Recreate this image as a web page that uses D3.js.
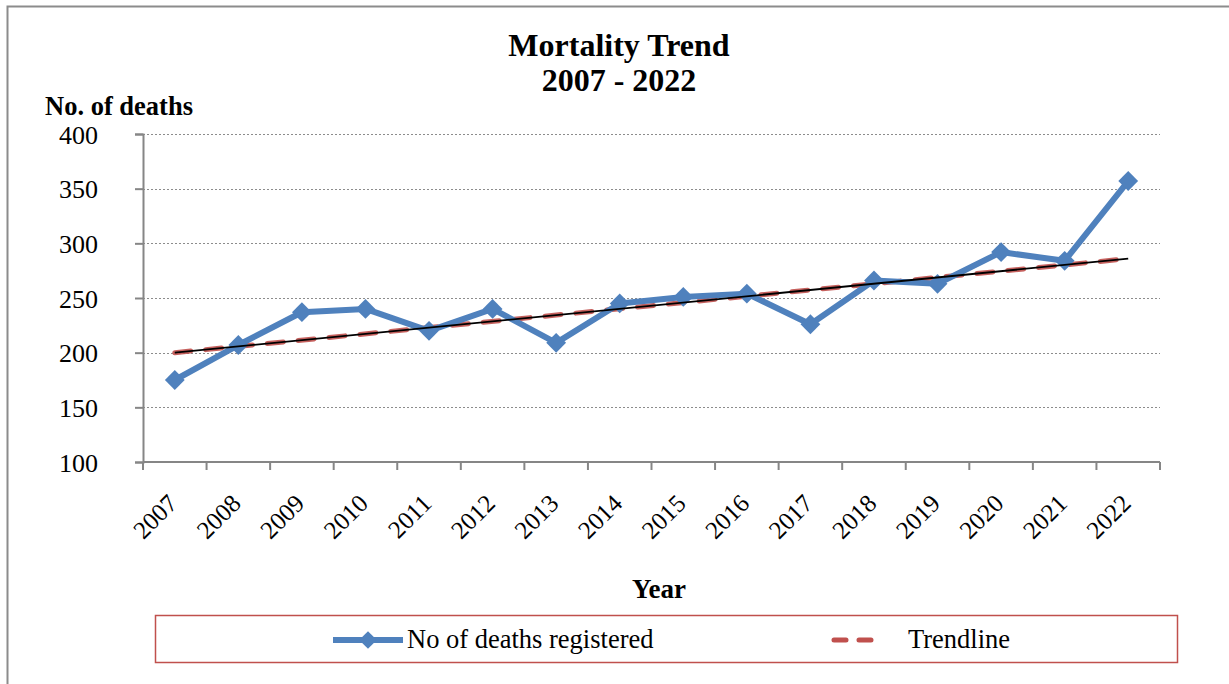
<!DOCTYPE html>
<html>
<head>
<meta charset="utf-8">
<script src="https://cdn.jsdelivr.net/npm/d3@7/dist/d3.min.js"></script>
<style>
  body { margin: 0; background: #fff; }
  text { font-family: "Liberation Serif", "Times New Roman", serif; fill: #000; }
</style>
</head>
<body>
<div id="chart"></div>
<script>
// chart data
let years = ["2007", "2008", "2009", "2010", "2011", "2012", "2013", "2014",
             "2015", "2016", "2017", "2018", "2019", "2020", "2021", "2022"]
let deaths = [175, 207, 237, 240, 220, 240, 209, 245, 251, 254, 226, 266, 263, 292, 284, 357]
// trendline endpoints
let trendStart = 200
let trendEnd = 286
let yTicks = [100, 150, 200, 250, 300, 350, 400]

let svgWidth = 1229, svgHeight = 684
let margin = { top: 134, right: 69, bottom: 222, left: 143 }
let width = svgWidth - margin.left - margin.right
let height = svgHeight - margin.top - margin.bottom

let svg = d3.select("#chart")
  .append("svg")
  .attr("width", svgWidth)
  .attr("height", svgHeight)

// outer chart border
svg.append("rect")
  .attr("x", 7.5).attr("y", 6.5)
  .attr("width", svgWidth + 10).attr("height", svgHeight + 10)
  .attr("fill", "none")
  .attr("stroke", "#8c8c8c")
  .attr("stroke-width", 2)

let chartGroup = svg.append("g")
  .attr("transform", `translate(${margin.left}, ${margin.top})`)

let xBand = d3.scaleBand().domain(years).range([0, width])
let xScale = d => xBand(d) + xBand.bandwidth() / 2
let yScale = d3.scaleLinear().domain([100, 400]).range([height, 0])

// gridlines
chartGroup.append("g")
  .selectAll("line")
  .data(yTicks.filter(t => t > 100))
  .enter()
  .append("line")
  .attr("x1", 0).attr("x2", width)
  .attr("y1", d => Math.round(yScale(d)) + 0.5)
  .attr("y2", d => Math.round(yScale(d)) + 0.5)
  .attr("stroke", "#8c8c8c")
  .attr("stroke-width", 1.2)
  .attr("stroke-dasharray", "2,2")

// y axis
let yAxis = chartGroup.append("g")
  .call(d3.axisLeft(yScale).tickValues(yTicks).tickSize(8).tickPadding(37))
yAxis.select(".domain").attr("stroke", "#868686").attr("stroke-width", 2)
yAxis.selectAll(".tick line").attr("stroke", "#868686").attr("stroke-width", 2)
yAxis.selectAll(".tick text")
  .attr("font-size", 26)
  .attr("dy", "0.35em")

// x axis: ticks on category boundaries
let xAxis = chartGroup.append("g")
  .attr("transform", `translate(0, ${height})`)
xAxis.append("line")
  .attr("x1", 0).attr("x2", width)
  .attr("stroke", "#868686").attr("stroke-width", 2)
xAxis.selectAll(".bound")
  .data(years.concat(["end"]))
  .enter()
  .append("line")
  .attr("x1", (d, i) => i * xBand.bandwidth())
  .attr("x2", (d, i) => i * xBand.bandwidth())
  .attr("y1", 0).attr("y2", 8)
  .attr("stroke", "#868686").attr("stroke-width", 2)
xAxis.selectAll(".lbl")
  .data(years)
  .enter()
  .append("text")
  .attr("transform", d => `translate(${xScale(d) + 4}, 43) rotate(-45)`)
  .attr("text-anchor", "end")
  .attr("font-size", 25)
  .text(d => d)

// trendline: red dashes with thin black line on top
let trendLine = [[years[0], trendStart], [years[years.length - 1], trendEnd]]
chartGroup.append("line")
  .attr("x1", xScale(trendLine[0][0])).attr("y1", yScale(trendLine[0][1]))
  .attr("x2", xScale(trendLine[1][0])).attr("y2", yScale(trendLine[1][1]))
  .attr("stroke", "#c0504d")
  .attr("stroke-opacity", 0.9)
  .attr("stroke-width", 5)
  .attr("stroke-linecap", "round")
  .attr("stroke-dasharray", "16,15")

// data line
let line = d3.line()
  .x((d, i) => xScale(years[i]))
  .y(d => yScale(d))
chartGroup.append("path")
  .datum(deaths)
  .attr("d", line)
  .attr("fill", "none")
  .attr("stroke", "#4f81bd")
  .attr("stroke-width", 6)
  .attr("stroke-linejoin", "round")

chartGroup.selectAll(".marker")
  .data(deaths)
  .enter()
  .append("path")
  .attr("d", d3.symbol().type(d3.symbolDiamond2).size(250))
  .attr("transform", (d, i) => `translate(${xScale(years[i])}, ${yScale(d)})`)
  .attr("fill", "#4f81bd")

chartGroup.append("line")
  .attr("x1", xScale(trendLine[0][0])).attr("y1", yScale(trendLine[0][1]))
  .attr("x2", xScale(trendLine[1][0])).attr("y2", yScale(trendLine[1][1]))
  .attr("stroke", "#000")
  .attr("stroke-width", 1.8)

// titles
svg.append("text")
  .attr("x", 619).attr("y", 56)
  .attr("text-anchor", "middle")
  .attr("font-size", 32).attr("font-weight", "bold")
  .text("Mortality Trend")
svg.append("text")
  .attr("x", 619).attr("y", 91)
  .attr("text-anchor", "middle")
  .attr("font-size", 32).attr("font-weight", "bold")
  .text("2007 - 2022")
svg.append("text")
  .attr("x", 45).attr("y", 115)
  .attr("font-size", 26.5).attr("font-weight", "bold")
  .text("No. of deaths")
svg.append("text")
  .attr("x", 659).attr("y", 598)
  .attr("text-anchor", "middle")
  .attr("font-size", 27).attr("font-weight", "bold")
  .text("Year")

// legend
let legend = svg.append("g")
legend.append("rect")
  .attr("x", 155.5).attr("y", 615.5)
  .attr("width", 1022).attr("height", 47)
  .attr("fill", "#fff")
  .attr("stroke", "#c0504d")
  .attr("stroke-width", 1.5)
legend.append("line")
  .attr("x1", 333).attr("x2", 403).attr("y1", 640).attr("y2", 640)
  .attr("stroke", "#4f81bd").attr("stroke-width", 6)
legend.append("path")
  .attr("d", d3.symbol().type(d3.symbolDiamond2).size(200))
  .attr("transform", "translate(368, 640)")
  .attr("fill", "#4f81bd")
legend.append("text")
  .attr("x", 407).attr("y", 648)
  .attr("font-size", 26.5)
  .text("No of deaths registered")
legend.append("line")
  .attr("x1", 834).attr("x2", 880).attr("y1", 640).attr("y2", 640)
  .attr("stroke", "#c0504d").attr("stroke-width", 5)
  .attr("stroke-linecap", "round")
  .attr("stroke-dasharray", "12,13")
legend.append("text")
  .attr("x", 908).attr("y", 648)
  .attr("font-size", 26.5)
  .text("Trendline")
</script>
</body>
</html>
